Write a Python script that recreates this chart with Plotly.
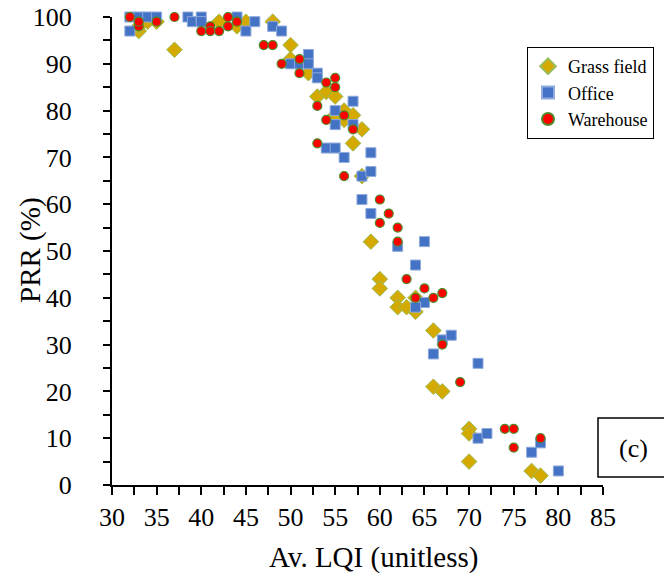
import plotly.graph_objects as go

grass_x = [33, 33, 34, 35, 37, 42, 44, 45, 48, 50, 50, 52, 53, 54, 55, 56, 55, 56, 57, 58, 57,
           58, 59, 60, 60, 62, 62, 63, 64, 64, 66, 66, 67, 70, 70, 70, 77, 78]
grass_y = [97, 98, 99, 99, 93, 99, 98, 99, 99, 94, 91, 88, 83, 84, 83, 80, 79, 78, 79, 76, 73,
           66, 52, 44, 42, 40, 38, 38, 37, 40, 33, 21, 20, 12, 11, 5, 3, 2]

office_x = [32, 32, 33, 34, 35, 38.5, 39, 40, 40, 44, 45, 46, 48, 49, 52, 50, 51, 52, 53, 53,
            57, 55, 55, 57, 54, 55, 56, 59, 58, 59, 58, 59, 62, 65, 64, 65, 64, 67, 68, 66,
            71, 71, 72, 77, 78, 80]
office_y = [100, 97, 100, 100, 100, 100, 99, 100, 99, 100, 97, 99, 98, 97, 92, 90, 90, 90, 88, 87,
            82, 80, 77, 77, 72, 72, 70, 71, 66, 67, 61, 58, 51, 52, 47, 39, 38, 31, 32, 28,
            26, 10, 11, 7, 9, 3]

ware_x = [32, 33, 33, 35, 37, 40, 41, 41, 42, 43, 43, 44, 47, 48, 51, 49, 51, 54, 55, 55,
          53, 56, 54, 57, 53, 56, 60, 61, 60, 62, 62, 63, 65, 64, 66, 67, 67, 69, 74, 75,
          75, 78]
ware_y = [100, 98, 99, 99, 100, 97, 98, 97, 97, 100, 98, 99, 94, 94, 91, 90, 88, 86, 87, 85,
          81, 79, 78, 76, 73, 66, 61, 58, 56, 55, 52, 44, 42, 40, 40, 41, 30, 22, 12, 12,
          8, 10]

serif = "Liberation Serif"
L, R, T, B = 112, 61, 17, 89
PW, PH = 664 - L - R, 574 - T - B

fig = go.Figure()
fig.add_trace(go.Scatter(
    x=grass_x, y=grass_y, mode="markers", name="Grass field", cliponaxis=False,
    marker=dict(symbol="diamond", size=12, color="#D4AA00",
                line=dict(color="#9BBB59", width=1))))
fig.add_trace(go.Scatter(
    x=office_x, y=office_y, mode="markers", name="Office", cliponaxis=False,
    marker=dict(symbol="square", size=10, color="#4472C4",
                line=dict(color="#8FAADC", width=1))))
fig.add_trace(go.Scatter(
    x=ware_x, y=ware_y, mode="markers", name="Warehouse", cliponaxis=False,
    marker=dict(symbol="circle", size=9, color="#FF0000",
                line=dict(color="#4E8A2A", width=1.2))))

fig.update_layout(
    width=664, height=574,
    margin=dict(l=L, r=R, t=T, b=B, autoexpand=False),
    paper_bgcolor="white", plot_bgcolor="white",
    font=dict(family=serif, size=26, color="black"),
    showlegend=True,
    legend=dict(x=(527 - L) / PW, y=(574 - B - 47) / PH, xanchor="left", yanchor="top",
                bgcolor="white", bordercolor="black", borderwidth=1,
                font=dict(family=serif, size=18, color="black"),
                tracegroupgap=0, itemsizing="constant"),
    xaxis=dict(range=[30, 85], dtick=5, tick0=30, showgrid=False, zeroline=False,
               automargin=False,
               showline=True, linecolor="black", linewidth=2,
               ticks="outside", ticklen=8, tickwidth=2, tickcolor="black",
               ticklabelstandoff=0,
               minor=dict(dtick=2.5, ticks="outside", ticklen=8, tickwidth=2, tickcolor="black"),
               tickfont=dict(family=serif, size=26)),
    yaxis=dict(range=[0, 100], dtick=10, tick0=0, showgrid=False, zeroline=False,
               automargin=False,
               showline=True, linecolor="black", linewidth=2,
               ticks="outside", ticklen=7, tickwidth=2, tickcolor="black",
               ticklabelstandoff=26,
               minor=dict(dtick=5, ticks="outside", ticklen=7, tickwidth=2, tickcolor="black"),
               tickfont=dict(family=serif, size=26)),
)

# axis titles
fig.add_annotation(text="Av. LQI (unitless)", xref="paper", yref="paper",
                   x=(373 - L) / PW, y=(574 - B - 557) / PH, xanchor="center", yanchor="middle",
                   showarrow=False, font=dict(family=serif, size=29, color="black"))
fig.add_annotation(text="PRR (%)", xref="paper", yref="paper", textangle=-90,
                   x=(30 - L) / PW, y=(574 - B - 250) / PH, xanchor="center", yanchor="middle",
                   showarrow=False, font=dict(family=serif, size=29, color="black"))

fig.add_shape(type="rect", xref="paper", yref="paper",
              x0=(598 - L) / PW, x1=(670 - L) / PW,
              y0=(574 - B - 477) / PH, y1=(574 - B - 418) / PH,
              line=dict(color="black", width=1.5), fillcolor="white")
fig.add_annotation(text="(c)", xref="paper", yref="paper",
                   x=(633 - L) / PW, y=(574 - B - 448) / PH,
                   xanchor="center", yanchor="middle",
                   showarrow=False, font=dict(family=serif, size=26, color="black"))

fig.write_html("out.html")
